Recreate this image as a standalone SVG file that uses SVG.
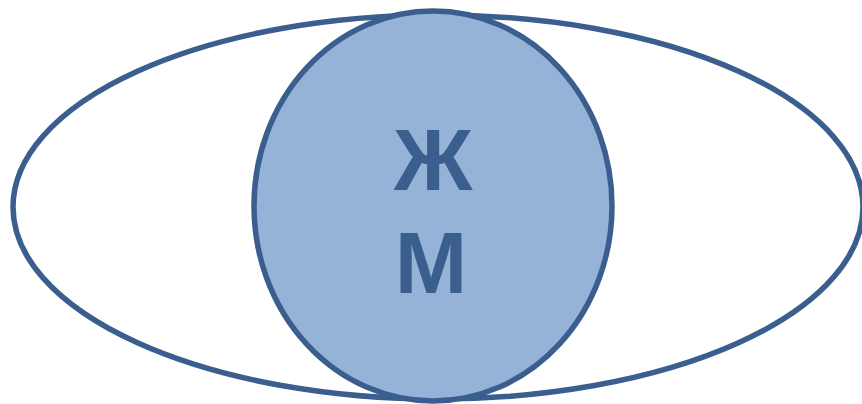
<svg xmlns="http://www.w3.org/2000/svg" width="862" height="404" viewBox="0 0 862 404">
<style>
.ln{stroke:#3A5E8E;stroke-width:5.5}
.t{font-family:"Liberation Sans",Arial,sans-serif;font-weight:bold;font-size:87px;fill:#3A5E8E;text-anchor:middle}
</style>
<rect width="862" height="404" fill="#FFFFFF"/>
<g id="outer"><ellipse class="ln" cx="438" cy="207" rx="425" ry="192" fill="#FFFFFF"/></g>
<g id="inner"><ellipse class="ln" cx="433" cy="206" rx="179" ry="195" fill="#95B3D7"/>
<text class="t" x="433" y="190">Ж</text>
<text class="t" x="431" y="293">М</text></g>
<g id="connectors"/>
</svg>
